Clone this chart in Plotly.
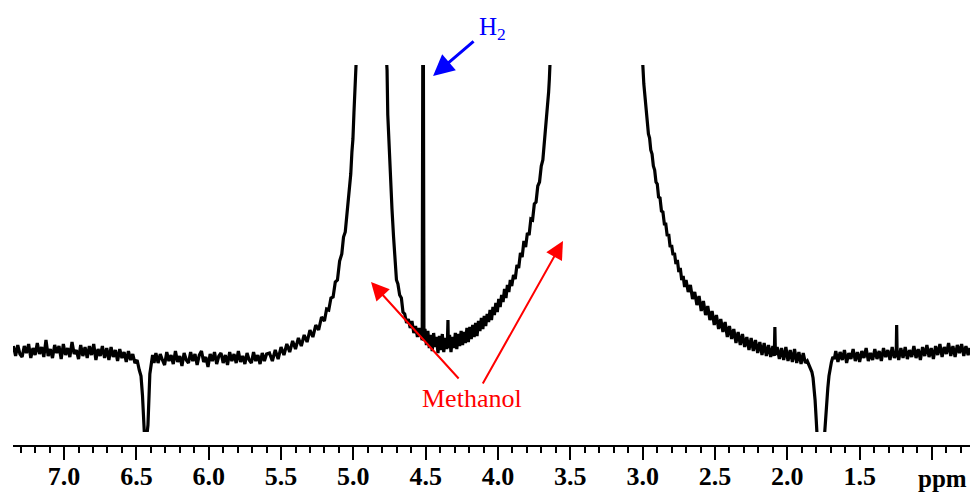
import plotly.graph_objects as go

# ---- data (chemical shift in ppm, intensity in a.u.) ----
# left baseline
ppm_a = [7.350, 7.335, 7.320, 7.305, 7.290, 7.275, 7.260, 7.245, 7.230, 7.215, 7.200, 7.185,
         7.170, 7.155, 7.140, 7.125, 7.110, 7.095, 7.080, 7.065, 7.050, 7.035, 7.020, 7.005,
         6.990, 6.975, 6.960, 6.945, 6.930, 6.915, 6.900, 6.885, 6.870, 6.855, 6.840, 6.825,
         6.810, 6.795, 6.780, 6.765, 6.750, 6.735, 6.720, 6.705, 6.690, 6.675, 6.660, 6.645,
         6.630, 6.615, 6.600, 6.585, 6.570, 6.555, 6.540, 6.525, 6.510]
int_a = [0.4, -0.6, 0.5, -0.4, -0.7, 0.4, -0.3, 0.6, -0.8, 0.2, -0.5, 0.7,
         -0.4, 0.3, -0.7, 1.0, -0.6, 0.1, -0.8, 0.5, -0.3, 0.4, -0.9, 0.6,
         -0.5, 0.2, -0.7, 0.8, -0.4, 0.0, -0.9, 0.5, -0.6, 0.3, -0.8, 0.4,
         -0.5, 0.6, -1.0, 0.1, -0.6, 0.4, -0.8, 0.2, -1.0, 0.3, -0.7, 0.0,
         -1.1, 0.1, -0.8, -0.2, -1.2, -0.1, -1.0, -0.4, -1.3]

# negative dip near 6.44 ppm
ppm_b = [6.495, 6.480, 6.468, 6.458, 6.450, 6.444, 6.436, 6.428, 6.420, 6.414, 6.407,
         6.398, 6.388, 6.378]
int_b = [-1.0, -2.0, -2.6, -4.5, -7.0, -8.6, -8.8, -8.6, -7.5, -4.5, -2.4, -1.5, -0.5, -1.3]

# middle baseline
ppm_c = [6.365, 6.350, 6.335, 6.320, 6.305, 6.290, 6.275, 6.260, 6.245, 6.230, 6.215, 6.200,
         6.185, 6.170, 6.155, 6.140, 6.125, 6.110, 6.095, 6.080, 6.065, 6.050, 6.035, 6.020,
         6.005, 5.990, 5.975, 5.960, 5.945, 5.930, 5.915, 5.900, 5.885, 5.870, 5.855, 5.840,
         5.825, 5.810, 5.795, 5.780, 5.765, 5.750, 5.735, 5.720, 5.705, 5.690, 5.675, 5.660,
         5.645, 5.630, 5.615, 5.600]
int_c = [-0.3, -1.3, -0.4, -1.0, -1.5, -0.2, -1.1, -0.5, -1.4, -0.1, -1.2, -0.6,
         -1.6, -0.3, -1.0, -1.3, -0.2, -1.1, -0.4, -1.5, -0.5, -0.1, -1.2, -0.7,
         -1.7, -0.4, -1.1, -0.2, -1.4, -0.6, -0.3, -1.3, -0.5, -1.5, -0.2, -1.1,
         -0.4, -1.3, -0.1, -1.2, -0.6, -1.4, -0.3, -1.0, -1.3, -0.2, -1.1, -0.5,
         -1.4, -0.3, -1.1, -0.4]

# left flank of the large peak at ~4.9 ppm
ppm_c2 = [5.580, 5.560, 5.540, 5.520, 5.500, 5.480, 5.460, 5.440, 5.420, 5.400,
          5.380, 5.360, 5.340, 5.320, 5.300, 5.280, 5.260, 5.240, 5.220, 5.200,
          5.185, 5.170, 5.155, 5.140, 5.125, 5.110, 5.095, 5.080, 5.068, 5.056,
          5.045, 5.035, 5.026, 5.018, 5.010, 5.003, 4.996, 4.988, 4.980]
int_c2 = [-0.3, -1.1, 0.0, -0.9, 0.3, -0.5, 0.6, -0.2, 0.9, 0.1,
          1.2, 0.4, 1.5, 0.8, 2.0, 1.3, 2.5, 2.0, 3.3, 2.9,
          4.1, 4.0, 5.2, 5.3, 6.8, 7.0, 8.9, 9.6, 11.3, 11.8,
          13.6, 14.6, 16.6, 17.6, 19.8, 21.1, 23.7, 25.8, 29.0]

# top of the large peak (off scale) and its right flank
ppm_d = [4.960, 4.930, 4.900, 4.870, 4.840, 4.810, 4.790, 4.775, 4.767, 4.762, 4.755, 4.747,
         4.740, 4.733, 4.722, 4.712, 4.702, 4.692, 4.680, 4.668, 4.657, 4.645, 4.632, 4.620,
         4.607, 4.595, 4.582, 4.570, 4.557, 4.545, 4.533]
int_d = [45, 75, 95, 88, 66, 45, 35, 30, 28.0, 23.5, 21.0, 19.2,
         16.4, 14.1, 11.3, 9.2, 7.0, 6.6, 5.5, 5.2, 3.8, 3.6, 2.7, 3.1,
         2.2, 2.9, 1.7, 2.4, 1.3, 2.2, 1.4]

# H2 line
ppm_h2 = [4.524, 4.518, 4.512]
int_h2 = [1.0, 45, 0.9]

# trough between the peaks
ppm_e = [4.505, 4.495, 4.485, 4.475, 4.465, 4.455, 4.445, 4.435, 4.425, 4.415, 4.405, 4.395,
         4.385, 4.375, 4.365, 4.355, 4.349, 4.346, 4.343, 4.335, 4.325, 4.315, 4.305, 4.295,
         4.285, 4.275, 4.265, 4.255, 4.245, 4.235, 4.225, 4.215, 4.205, 4.195, 4.185, 4.175,
         4.165, 4.155, 4.145, 4.135, 4.125, 4.115, 4.105, 4.095, 4.085, 4.075, 4.065, 4.055,
         4.045, 4.035, 4.025, 4.015, 4.005, 3.995, 3.985, 3.975, 3.965, 3.955, 3.945, 3.935,
         3.925, 3.915, 3.905]
int_e = [2.1, 0.5, 1.9, 0.2, 1.5, -0.1, 1.7, 0.3, 1.3, -0.3, 1.4, 0.0,
         1.6, -0.2, 1.2, 0.1, 1.3, 3.0, 0.2, 1.5, -0.2, 1.3, 0.2, 1.7,
         0.1, 1.6, 0.4, 1.9, 0.5, 1.8, 0.7, 2.2, 0.8, 2.3, 1.1, 2.5,
         1.3, 2.7, 1.4, 2.9, 1.9, 3.2, 2.1, 3.4, 2.4, 3.6, 2.8, 4.0,
         3.0, 4.3, 3.5, 4.7, 3.8, 5.1, 4.3, 5.5, 4.8, 6.1, 5.2, 6.5,
         5.8, 7.0, 6.4]

# left flank of the methanol peak at ~3.3 ppm
ppm_e2 = [3.893, 3.881, 3.869, 3.857, 3.845, 3.833, 3.821, 3.809, 3.797, 3.785,
          3.773, 3.761, 3.749, 3.737, 3.725, 3.713, 3.701, 3.690, 3.680, 3.671,
          3.663, 3.656, 3.650, 3.645, 3.640]
int_e2 = [7.5, 7.1, 8.5, 8.2, 9.7, 9.3, 10.9, 10.3, 11.7, 11.5,
          13.1, 13.0, 14.6, 14.8, 16.4, 16.8, 18.4, 19.0, 20.7, 21.5,
          23.2, 24.1, 25.8, 27.1, 29.0]

# top of the methanol peak (off scale) and its steep right flank
ppm_f = [3.620, 3.550, 3.450, 3.350, 3.250, 3.150, 3.070, 3.020, 3.000, 2.992,
         2.984, 2.976, 2.968, 2.960, 2.952, 2.944, 2.935, 2.926, 2.917, 2.908,
         2.899, 2.890, 2.880, 2.870, 2.860, 2.850, 2.840, 2.830, 2.820, 2.810,
         2.800, 2.790, 2.780, 2.770, 2.760, 2.750, 2.740, 2.730, 2.720, 2.710]
int_f = [38, 60, 100, 130, 100, 65, 42, 32, 28.8, 26.6,
         25.4, 23.6, 23.0, 21.6, 21.2, 20.0, 19.6, 18.4, 18.0, 16.8,
         16.6, 15.3, 15.2, 13.9, 13.8, 12.6, 12.6, 11.4, 11.6, 10.3,
         10.5, 9.5, 9.7, 8.6, 9.0, 7.8, 8.2, 7.0, 7.4, 6.3]

# tail of the methanol peak
ppm_f2 = [2.700, 2.685, 2.670, 2.655, 2.640, 2.625, 2.610, 2.595, 2.580, 2.565, 2.550, 2.535,
          2.520, 2.505, 2.490, 2.475, 2.460, 2.445, 2.430, 2.415, 2.400, 2.385, 2.370, 2.355,
          2.340, 2.325, 2.310, 2.295, 2.280, 2.265, 2.250, 2.235, 2.220, 2.205, 2.190, 2.175,
          2.160, 2.145, 2.130, 2.115, 2.100, 2.090, 2.086, 2.082, 2.070, 2.055, 2.040, 2.025,
          2.010, 1.995, 1.980, 1.965, 1.950, 1.935, 1.920, 1.905, 1.890, 1.875]
int_f2 = [7.0, 5.8, 6.5, 5.1, 5.8, 4.5, 5.4, 3.9, 4.9, 3.5, 4.4, 3.0,
          3.9, 2.5, 3.5, 2.1, 3.1, 1.8, 2.8, 1.3, 2.4, 1.1, 2.1, 0.7,
          1.8, 0.5, 1.6, 0.3, 1.3, 0.0, 1.2, -0.1, 1.0, -0.3, 0.8, -0.5,
          0.7, -0.6, 0.5, -0.7, 0.4, -0.6, 2.3, -0.5, 0.3, -0.9, 0.2, -1.0,
          0.3, -1.1, 0.0, -1.2, 0.1, -1.3, -0.2, -1.4, -0.3, -1.3]

# negative dip near 1.77 ppm
ppm_g0 = [1.862, 1.850, 1.840, 1.830, 1.822, 1.815, 1.808, 1.800, 1.794, 1.780, 1.760,
          1.745, 1.739, 1.733, 1.727, 1.720, 1.712, 1.704, 1.695, 1.685, 1.675]
int_g0 = [-1.1, -1.5, -1.7, -2.2, -2.8, -3.6, -5.0, -7.0, -8.6, -9.5, -9.5,
          -9.0, -7.6, -6.0, -5.0, -3.8, -2.6, -1.8, -1.2, -0.7, -0.9]

# right baseline
ppm_g = [1.665, 1.650, 1.635, 1.620, 1.605, 1.590, 1.575, 1.560, 1.545, 1.530, 1.515, 1.500,
         1.485, 1.470, 1.455, 1.440, 1.425, 1.410, 1.395, 1.380, 1.365, 1.350, 1.335, 1.320,
         1.305, 1.290, 1.275, 1.260, 1.247, 1.244, 1.241, 1.230, 1.215, 1.200, 1.185, 1.170,
         1.155, 1.140, 1.125, 1.110, 1.095, 1.080, 1.065, 1.050, 1.035, 1.020, 1.005, 0.990,
         0.975, 0.960, 0.945, 0.930, 0.915, 0.900, 0.885, 0.870, 0.855, 0.840, 0.825, 0.810,
         0.795, 0.780, 0.765, 0.750, 0.737]
int_g = [-0.1, -1.2, -0.2, -1.0, 0.0, -1.3, -0.3, -0.9, 0.1, -1.1, -0.2, -1.2,
         -0.1, -0.8, 0.2, -1.1, -0.3, -1.0, 0.1, -0.9, -0.1, -1.1, 0.2, -0.7,
         0.0, -1.0, 0.3, -0.8, -0.3, 2.5, -0.2, -1.0, 0.2, -0.8, 0.3, -0.9,
         0.0, -0.7, 0.4, -0.8, 0.1, -1.0, 0.3, -0.6, 0.5, -0.7, 0.2, -0.9,
         0.4, -0.5, 0.6, -0.7, 0.3, -0.4, 0.7, -0.6, 0.4, -0.7, 0.5, -0.3,
         0.6, -0.6, 0.4, -0.5, 0.2]

tick_vals = [7.0, 6.5, 6.0, 5.5, 5.0, 4.5, 4.0, 3.5, 3.0, 2.5, 2.0, 1.5, 1.0]
tick_text = ["7.0", "6.5", "6.0", "5.5", "5.0", "4.5", "4.0", "3.5", "3.0", "2.5", "2.0", "1.5", ""]

ppm = (ppm_a + ppm_b + ppm_c + ppm_c2 + ppm_d + ppm_h2 + ppm_e + ppm_e2
       + ppm_f + ppm_f2 + ppm_g0 + ppm_g)
intensity = (int_a + int_b + int_c + int_c2 + int_d + int_h2 + int_e + int_e2
             + int_f + int_f2 + int_g0 + int_g)

fig = go.Figure()
fig.add_trace(go.Scatter(x=ppm, y=intensity, mode="lines",
                         line=dict(color="black", width=3.2), hoverinfo="skip"))

serif = "Liberation Serif, Times New Roman, serif"

fig.update_layout(
    width=970, height=493,
    margin=dict(l=13, r=0, t=65, b=47),
    paper_bgcolor="white", plot_bgcolor="white",
    showlegend=False,
    xaxis=dict(
        range=[7.353, 0.737], anchor="free", position=0,
        showline=True, linecolor="black", linewidth=2,
        showgrid=False, zeroline=False,
        tickmode="array", tickvals=tick_vals, ticktext=tick_text,
        ticks="outside", ticklen=13, tickwidth=2, tickcolor="black",
        ticklabelstandoff=-6,
        tickfont=dict(family=serif, size=26, color="black", weight="bold"),
        minor=dict(ticks="outside", ticklen=6, tickwidth=1.5, tickcolor="black",
                   tickmode="linear", tick0=0, dtick=0.1),
    ),
    yaxis=dict(visible=False, range=[-8.2, 28.5], domain=[0.0367, 1],
               showgrid=False, zeroline=False),
)

# ppm label at the right end of the axis
fig.add_annotation(xref="paper", yref="paper", x=1.0, xshift=-1, y=-0.084,
                   xanchor="right", yanchor="middle", showarrow=False, text="ppm",
                   font=dict(family=serif, size=25, color="black", weight="bold"))

# H2 arrow + label
fig.add_annotation(x=4.449, y=27.4, xref="x", yref="y", ax=42, ay=-36,
                   text="", showarrow=True,
                   arrowhead=2, arrowsize=1.4, arrowwidth=3, arrowcolor="blue")
fig.add_annotation(x=(493 - 13) / 957, y=(446 - 28) / 381, xref="paper", yref="paper",
                   xanchor="center", yanchor="middle", showarrow=False,
                   text="H<sub>2</sub>", font=dict(family=serif, size=25, color="blue"))

# Methanol arrows + label
fig.add_annotation(x=4.878, y=6.8, xref="x", yref="y", ax=89, ay=98,
                   text="", showarrow=True, arrowhead=2, arrowsize=1.8,
                   arrowwidth=2, arrowcolor="red")
fig.add_annotation(x=3.551, y=10.9, xref="x", yref="y", ax=-81, ay=144,
                   text="", showarrow=True, arrowhead=2, arrowsize=1.8,
                   arrowwidth=2, arrowcolor="red")
fig.add_annotation(x=4.18, y=-4.8, xref="x", yref="y", showarrow=False,
                   text="Methanol", font=dict(family=serif, size=26, color="red"))

fig.write_html("out.html")
